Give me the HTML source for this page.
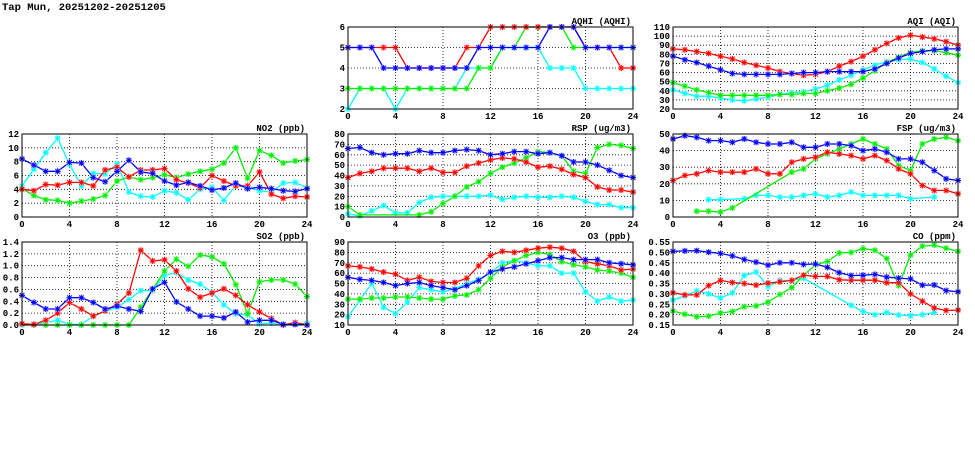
<!DOCTYPE html>
<html><head><meta charset="utf-8"><style>
body{margin:0;background:#fff;}
svg text{font-family:"Liberation Mono",monospace;font-weight:bold;fill:#000;}
</style></head><body>
<svg id="s" width="975" height="447" xmlns="http://www.w3.org/2000/svg">
<text x="2" y="10" font-size="10.5">Tap Mun, 20251202-20251205</text>
</svg>
<script>
const N=null;
const panels=[
{t:"AQHI (AQHI)",x0:348,x1:633,y0:27,y1:109,min:2,max:6,step:1,dec:0,d:{
c:[2,3,3,3,2,3,3,3,3,3,4,4,4,5,5,5,5,4,4,4,3,3,3,3,3],
g:[3,3,3,3,3,3,3,3,3,3,3,4,4,5,5,6,6,6,6,5,5,5,5,5,5],
r:[5,5,5,5,5,4,4,4,4,4,5,5,6,6,6,6,6,6,6,6,5,5,5,4,4],
b:[5,5,5,4,4,4,4,4,4,4,4,5,5,5,5,5,5,6,6,6,5,5,5,5,5]}},
{t:"AQI (AQI)",x0:673,x1:958,y0:27,y1:109,min:20,max:110,step:10,dec:0,d:{
c:[41,37,34,34,32,30,29,31,33,36,38,39,42,46,52,57,63,68,72,74,75,71,64,56,49],
g:[49,45,41,38,35,35,35,35,35,36,36,37,37,40,43,47,54,62,71,77,82,84,84,82,79],
r:[86,85,83,81,78,75,71,68,65,61,59,57,58,61,67,72,78,85,92,98,101,99,97,94,90],
b:[78,74,71,67,63,59,58,58,58,58,59,60,60,61,61,61,61,64,70,76,81,83,85,86,86]}},
{t:"NO2 (ppb)",x0:22,x1:307,y0:134,y1:217,min:0,max:12,step:2,dec:0,d:{
c:[4.5,6.9,9.3,11.4,7.6,4.5,6.3,6.2,7.7,3.6,3.0,2.9,3.8,3.5,2.5,4.0,4.3,2.4,4.6,4.3,3.8,3.6,4.9,5.0,4.2],
g:[4.1,3.1,2.5,2.4,2.0,2.3,2.6,3.1,5.2,5.8,5.4,5.7,6.1,5.7,6.2,6.6,6.9,7.8,10.0,5.6,9.6,8.9,7.8,8.1,8.3],
r:[4.0,3.8,4.7,4.6,5.0,5.0,4.5,6.8,7.2,5.8,6.8,6.8,7.0,5.4,4.9,4.2,6.0,5.2,4.5,4.5,6.5,3.3,2.7,3.0,2.9],
b:[8.4,7.5,6.6,6.6,7.9,7.8,5.7,5.1,6.6,8.2,6.5,6.3,5.2,4.6,5.0,4.5,3.9,4.2,4.9,4.1,4.3,4.1,3.8,3.7,4.1]}},
{t:"RSP (ug/m3)",x0:348,x1:633,y0:134,y1:217,min:0,max:80,step:10,dec:0,d:{
c:[3,1,6,11,4,4,14,19,20,20,20,20,21,17,19,20,19,19,20,19,15,12,12,9,9],
g:[10,2,N,N,N,N,2,5,13,20,29,34,42,48,52,57,63,62,59,44,42,67,70,69,66],
r:[38,42,44,47,47,47,44,47,43,43,49,52,55,57,56,53,48,49,46,41,38,29,26,26,24],
b:[66,67,62,60,61,61,64,62,62,64,65,64,60,61,63,63,61,62,59,53,53,50,45,40,38]}},
{t:"FSP (ug/m3)",x0:673,x1:958,y0:134,y1:217,min:0,max:50,step:10,dec:0,d:{
c:[N,N,N,10.5,10.5,N,11,13,13,12,12,13,14,12,13,15,13,13,13,13,11,N,12,N,N],
g:[N,N,3.5,3.5,3,5.5,N,N,N,N,27,29,35,38,41,44,47,44,41,31,28,44,47,48,46],
r:[22,25,26,28,27,27,27,29,26,26,33,35,36,39,38,37,35,37,34,29,26,19,16,16,14],
b:[47,49,48,46,46,45,47,45,44,44,45,42,42,44,44,43,40,41,39,35,35,33,28,23,22]}},
{t:"SO2 (ppb)",x0:22,x1:307,y0:242,y1:325,min:0,max:1.4,step:0.2,dec:1,d:{
c:[0,0,0.04,0.08,0.01,0.01,0.15,0.23,0.3,0.43,0.58,0.58,0.84,0.88,0.76,0.69,0.55,0.34,0.19,0.17,0.02,0.03,0,0.02,0.03],
g:[0.02,0,0,0,0,0,0,0,0,0,0.3,0.6,0.91,1.11,0.99,1.18,1.15,1.03,0.68,0.19,0.73,0.76,0.76,0.69,0.48],
r:[0.02,0.01,0.08,0.2,0.38,0.27,0.15,0.24,0.35,0.54,1.26,1.08,1.1,0.91,0.61,0.47,0.54,0.61,0.5,0.34,0.22,0.11,0,0.04,0],
b:[0.5,0.38,0.27,0.27,0.46,0.46,0.38,0.27,0.32,0.27,0.23,0.61,0.72,0.39,0.27,0.15,0.15,0.12,0.22,0.05,0.08,0.08,0.01,0.01,0]}},
{t:"O3 (ppb)",x0:348,x1:633,y0:242,y1:325,min:10,max:90,step:10,dec:0,d:{
c:[18,34,50,27,21,32,46,44,42,45,50,54,60,70,72,70,67,67,60,60,42,33,37,33,34],
g:[35,35,36,36,37,37,36,35,35,38,39,44,55,66,72,77,80,78,71,68,66,63,62,60,56],
r:[67,66,64,61,59,53,56,52,51,51,55,67,77,81,80,82,84,85,84,81,71,69,67,63,64],
b:[56,54,53,51,48,50,51,48,46,44,48,53,61,64,66,69,72,75,75,73,73,73,70,69,68]}},
{t:"CO (ppm)",x0:673,x1:958,y0:242,y1:325,min:0.15,max:0.55,step:0.05,dec:2,d:{
c:[.27,.29,.315,.3,.28,.305,.388,.405,.335,.365,.365,.375,N,N,N,.245,.215,.2,.21,.198,.195,.2,.21,N,N],
g:[.218,.202,.19,.193,.208,.215,.238,.242,.26,.297,.33,.39,.44,.456,.497,.5,.518,.51,.47,.34,.487,.53,.535,.52,.505],
r:[.305,.295,.295,.34,.365,.355,.35,.342,.352,.358,.365,.39,.384,.384,.368,.366,.366,.366,.354,.354,.3,.265,.232,.22,.222],
b:[.505,.507,.508,.501,.495,.483,.466,.453,.438,.45,.45,.442,.444,.428,.402,.388,.39,.394,.381,.376,.372,.342,.343,.316,.31]}}
];
const col={c:"#00ffff",g:"#00ee00",r:"#ff0000",b:"#0000ff"};
const halo={c:"#ccffff",g:"#ccffcc",r:"#ffcccc",b:"#ccccff"};
let h="";
for(const p of panels){
  const X=i=>p.x0+(p.x1-p.x0)*i/24, Y=v=>p.y1-(p.y1-p.y0)*(v-p.min)/(p.max-p.min);
  const n=Math.round((p.max-p.min)/p.step);
  for(let k=0;k<=n;k++){const v=p.min+k*p.step,y=Y(v).toFixed(1);
    if(k>0&&k<n)h+=`<line x1="${p.x0}" y1="${y}" x2="${p.x1}" y2="${y}" stroke="#000" stroke-width="0.8" stroke-dasharray="1,2"/>`;
    h+=`<text x="${p.x0-3}" y="${(+y+3)}" font-size="9" text-anchor="end">${v.toFixed(p.dec)}</text>`;}
  for(let i=0;i<=24;i+=4){const x=X(i);
    if(i>0&&i<24)h+=`<line x1="${x}" y1="${p.y0}" x2="${x}" y2="${p.y1}" stroke="#000" stroke-width="0.8" stroke-dasharray="1,2"/>`;
    h+=`<text x="${x}" y="${p.y1+10}" font-size="9" text-anchor="middle">${i}</text>`;}
  h+=`<text x="${p.x1-2}" y="${p.y0-3}" font-size="9" text-anchor="end">${p.t}</text>`;
  for(const s of ["c","g","r","b"]){
    const pts=[];p.d[s].forEach((v,i)=>{if(v!==null)pts.push([X(i),Y(v)]);});
    h+=`<polyline fill="none" stroke="${col[s]}" stroke-width="1.3" points="${pts.map(q=>q[0].toFixed(1)+","+q[1].toFixed(1)).join(" ")}"/>`;
    for(const [x,y] of pts){
      h+=`<rect x="${(x-3).toFixed(1)}" y="${(y-3).toFixed(1)}" width="6" height="6" fill="${halo[s]}" opacity="0.6"/>`;
      h+=`<path d="M${x-2.2},${y-2.2}L${x+2.2},${y+2.2}M${x-2.2},${y+2.2}L${x+2.2},${y-2.2}M${x},${y-3}L${x},${y+3}M${x-3},${y}L${x+3},${y}" stroke="${col[s]}" stroke-width="1"/>`;
    }
  }
  h+=`<rect x="${p.x0}" y="${p.y0}" width="${p.x1-p.x0}" height="${p.y1-p.y0}" fill="none" stroke="#000" stroke-width="1"/>`;
}
document.getElementById("s").insertAdjacentHTML("beforeend",h);
</script>
</body></html>
